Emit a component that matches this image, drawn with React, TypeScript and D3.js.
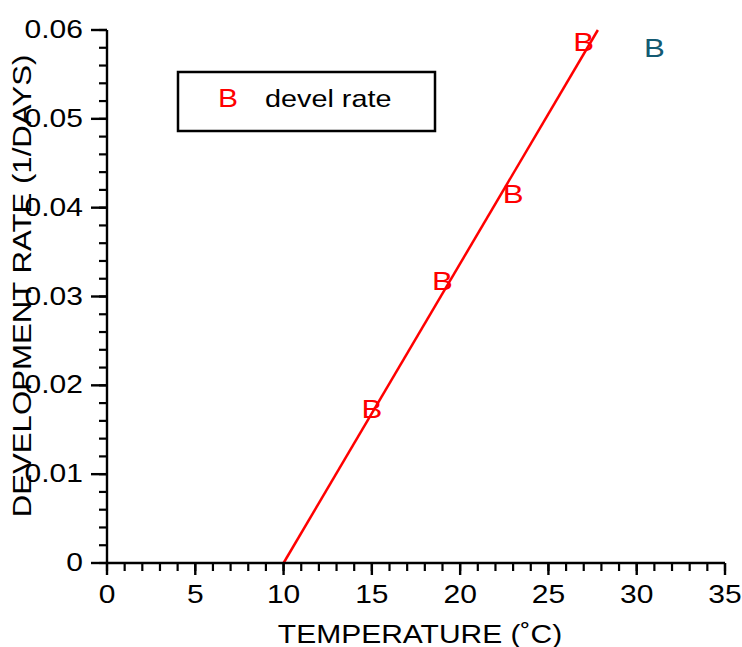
import React from "react";
import * as d3 from "d3";

// ---- data ----
const temps = [15, 19, 23, 27];
const rates = [0.0174, 0.0318, 0.0416, 0.0587];
const outlierTemps = [31];
const outlierRates = [0.058];
const fitTemps = [10, 27.8];
const fitRates = [0, 0.06];
const xTicks = [0, 5, 10, 15, 20, 25, 30, 35];
const xTickLabels = ["0", "5", "10", "15", "20", "25", "30", "35"];
const yTicks = [0, 0.01, 0.02, 0.03, 0.04, 0.05, 0.06];
const yTickLabels = ["0", "0.01", "0.02", "0.03", "0.04", "0.05", "0.06"];
const seriesName = "devel rate";
const xTitle = "TEMPERATURE (˚C)";
const yTitle = "DEVELOPMENT RATE (1/DAYS)";

const W = 742;
const H = 647;
const FONT = "'Liberation Sans', Arial, sans-serif";
const SX = 1.2;

const x = d3.scaleLinear().domain([0, 35]).range([107, 725]);
const y = d3.scaleLinear().domain([0, 0.06]).range([563, 30]);

function T(props: {
  x: number;
  y: number;
  size?: number;
  anchor?: string;
  fill?: string;
  rotate?: number;
  children: React.ReactNode;
}) {
  const { size = 25, anchor = "start", fill = "#000", rotate = 0 } = props;
  return (
    <text
      transform={`translate(${props.x},${props.y}) rotate(${rotate}) scale(${SX},1)`}
      textAnchor={anchor}
      fontFamily={FONT}
      fontSize={size}
      fill={fill}
    >
      {props.children}
    </text>
  );
}

export default function App() {
  const xMinor = d3.range(0, 35.001, 1);
  const yMinor = d3.range(0, 0.06001, 0.002);
  const line = d3
    .line<number>()
    .x((_, i) => x(fitTemps[i]))
    .y((_, i) => y(fitRates[i]));

  return (
    <svg
      width={W}
      height={H}
      style={{ position: "absolute", left: 0, top: 0, display: "block", background: "#fff" }}
    >
      {/* fit line */}
      <path d={line(fitRates) || ""} fill="none" stroke="#ff0000" strokeWidth={2.5} />

      {/* axes */}
      <line x1={x(0)} x2={x(35)} y1={y(0)} y2={y(0)} stroke="#000" strokeWidth={2.4} />
      <line x1={x(0)} x2={x(0)} y1={y(0)} y2={y(0.06)} stroke="#000" strokeWidth={2.4} />
      {xMinor.map((v) => (
        <line key={"xm" + v} x1={x(v)} x2={x(v)} y1={y(0)} y2={y(0) + 8} stroke="#000" strokeWidth={2.2} />
      ))}
      {xTicks.map((v, i) => (
        <g key={"xt" + v}>
          <line x1={x(v)} x2={x(v)} y1={y(0)} y2={y(0) + 12} stroke="#000" strokeWidth={2.4} />
          <T x={x(v)} y={603} anchor="middle">{xTickLabels[i]}</T>
        </g>
      ))}
      {yMinor.map((v) => (
        <line key={"ym" + v} x1={x(0) - 8} x2={x(0)} y1={y(v)} y2={y(v)} stroke="#000" strokeWidth={2.2} />
      ))}
      {yTicks.map((v, i) => (
        <g key={"yt" + v}>
          <line x1={x(0) - 16} x2={x(0)} y1={y(v)} y2={y(v)} stroke="#000" strokeWidth={2.4} />
          <T x={83} y={y(v) + 8} anchor="end">{yTickLabels[i]}</T>
        </g>
      ))}

      {/* titles */}
      <T x={420} y={643} anchor="middle">{xTitle}</T>
      <T x={31} y={286} anchor="middle" rotate={-90} size={26}>{yTitle}</T>

      {/* markers */}
      {temps.map((t, i) => (
        <T key={"m" + i} x={x(t)} y={y(rates[i]) + 9.5} anchor="middle" fill="#ff0000" size={26}>B</T>
      ))}
      {outlierTemps.map((t, i) => (
        <T key={"o" + i} x={x(t)} y={y(outlierRates[i]) + 9.5} anchor="middle" fill="#135a72" size={26}>B</T>
      ))}

      {/* legend */}
      <rect x={178} y={72} width={257} height={59} fill="#fff" stroke="#000" strokeWidth={2.5} />
      <T x={228} y={107} anchor="middle" fill="#ff0000" size={25}>B</T>
      <T x={265} y={107} size={24}>{seriesName}</T>
    </svg>
  );
}
